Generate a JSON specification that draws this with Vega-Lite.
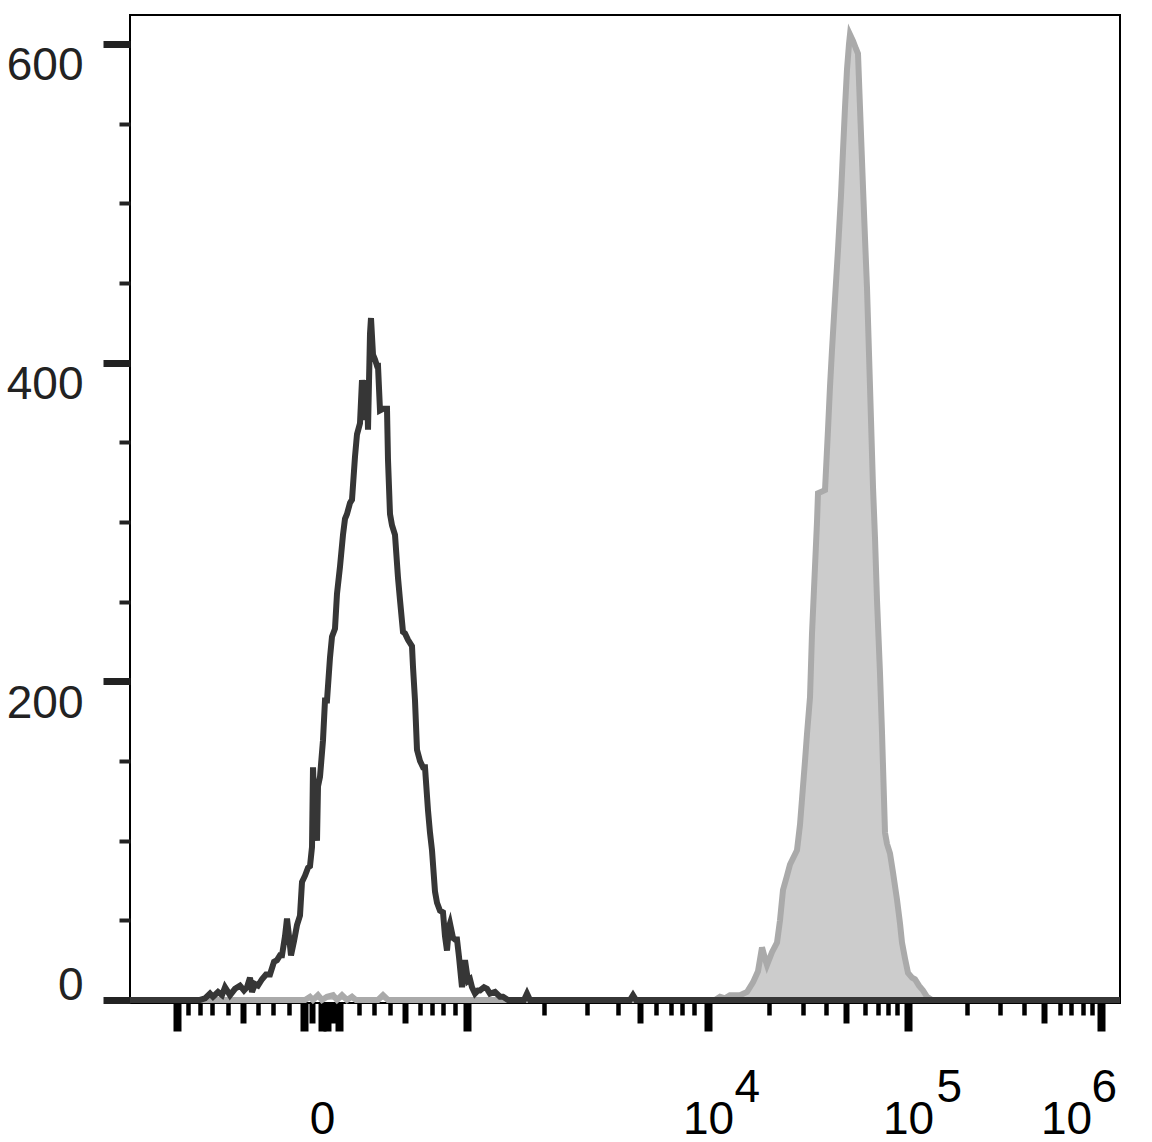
{
  "$schema": "https://vega.github.io/schema/vega-lite/v6.json",
  "width": 990,
  "height": 988,
  "autosize": {"type": "none"},
  "padding": {"left": 130, "top": 15, "right": 32, "bottom": 139},
  "background": "white",
  "config": {"view": {"stroke": "#000000", "strokeWidth": 2}, "font": "Liberation Sans"},
  "datasets": {
    "control": [
      {"pos":0,"count":0},{"pos":70,"count":0},{"pos":75,"count":1},{"pos":80,"count":4},{"pos":83,"count":2},{"pos":88,"count":5},{"pos":92,"count":3},{"pos":95,"count":8},{"pos":100,"count":3},{"pos":105,"count":7},{"pos":110,"count":9},{"pos":114,"count":6},{"pos":117,"count":8},{"pos":120,"count":14},{"pos":122,"count":5},{"pos":125,"count":10},{"pos":128,"count":9},{"pos":132,"count":13},{"pos":136,"count":16},{"pos":140,"count":16},{"pos":144,"count":24},{"pos":147,"count":25},{"pos":150,"count":28},{"pos":152,"count":28},{"pos":155,"count":40},{"pos":157,"count":51},{"pos":159,"count":40},{"pos":161,"count":28},{"pos":164,"count":37},{"pos":167,"count":47},{"pos":170,"count":53},{"pos":172,"count":74},{"pos":175,"count":78},{"pos":178,"count":83},{"pos":180,"count":84},{"pos":182,"count":96},{"pos":183,"count":146},{"pos":185,"count":110},{"pos":187,"count":100},{"pos":188,"count":134},{"pos":190,"count":140},{"pos":193,"count":163},{"pos":195,"count":188},{"pos":197,"count":188},{"pos":200,"count":215},{"pos":202,"count":228},{"pos":205,"count":233},{"pos":207,"count":255},{"pos":210,"count":272},{"pos":213,"count":292},{"pos":215,"count":302},{"pos":217,"count":305},{"pos":220,"count":312},{"pos":222,"count":314},{"pos":225,"count":341},{"pos":227,"count":355},{"pos":230,"count":362},{"pos":232,"count":389},{"pos":234,"count":378},{"pos":236,"count":364},{"pos":237,"count":389},{"pos":238,"count":358},{"pos":240,"count":418},{"pos":241,"count":428},{"pos":243,"count":405},{"pos":245,"count":402},{"pos":247,"count":398},{"pos":248,"count":398},{"pos":250,"count":370},{"pos":253,"count":371},{"pos":256,"count":371},{"pos":257,"count":371},{"pos":258,"count":339},{"pos":260,"count":305},{"pos":262,"count":298},{"pos":265,"count":292},{"pos":268,"count":265},{"pos":270,"count":251},{"pos":273,"count":231},{"pos":275,"count":230},{"pos":278,"count":226},{"pos":282,"count":222},{"pos":283,"count":209},{"pos":285,"count":188},{"pos":287,"count":157},{"pos":290,"count":150},{"pos":293,"count":146},{"pos":295,"count":146},{"pos":298,"count":119},{"pos":300,"count":105},{"pos":302,"count":94},{"pos":305,"count":68},{"pos":307,"count":61},{"pos":310,"count":56},{"pos":313,"count":55},{"pos":315,"count":40},{"pos":317,"count":31},{"pos":319,"count":46},{"pos":320,"count":48},{"pos":323,"count":39},{"pos":325,"count":38},{"pos":327,"count":38},{"pos":329,"count":27},{"pos":332,"count":8},{"pos":334,"count":22},{"pos":335,"count":25},{"pos":338,"count":12},{"pos":340,"count":13},{"pos":342,"count":8},{"pos":345,"count":4},{"pos":348,"count":6},{"pos":350,"count":6},{"pos":354,"count":8},{"pos":357,"count":7},{"pos":360,"count":4},{"pos":365,"count":5},{"pos":370,"count":2},{"pos":373,"count":2},{"pos":378,"count":0},{"pos":394,"count":0},{"pos":397,"count":4},{"pos":400,"count":0},{"pos":500,"count":0},{"pos":503,"count":3},{"pos":506,"count":0},{"pos":990,"count":0}
    ],
    "stained": [
      {"pos":0,"count":0},{"pos":170,"count":0},{"pos":175,"count":0},{"pos":180,"count":2},{"pos":183,"count":0},{"pos":188,"count":3},{"pos":192,"count":0},{"pos":197,"count":2},{"pos":203,"count":3},{"pos":207,"count":0},{"pos":212,"count":3},{"pos":217,"count":0},{"pos":222,"count":2},{"pos":226,"count":0},{"pos":248,"count":0},{"pos":253,"count":3},{"pos":258,"count":0},{"pos":585,"count":0},{"pos":590,"count":2},{"pos":595,"count":1},{"pos":600,"count":3},{"pos":610,"count":3},{"pos":617,"count":5},{"pos":623,"count":11},{"pos":628,"count":18},{"pos":632,"count":33},{"pos":635,"count":26},{"pos":637,"count":22},{"pos":642,"count":30},{"pos":647,"count":36},{"pos":650,"count":50},{"pos":653,"count":69},{"pos":657,"count":78},{"pos":660,"count":85},{"pos":667,"count":94},{"pos":670,"count":110},{"pos":672,"count":126},{"pos":675,"count":150},{"pos":677,"count":167},{"pos":680,"count":190},{"pos":682,"count":230},{"pos":685,"count":272},{"pos":687,"count":300},{"pos":688,"count":318},{"pos":695,"count":320},{"pos":698,"count":358},{"pos":700,"count":385},{"pos":702,"count":408},{"pos":705,"count":440},{"pos":708,"count":471},{"pos":711,"count":505},{"pos":713,"count":533},{"pos":715,"count":560},{"pos":717,"count":584},{"pos":719,"count":600},{"pos":720,"count":606},{"pos":723,"count":602},{"pos":726,"count":597},{"pos":728,"count":594},{"pos":730,"count":560},{"pos":733,"count":510},{"pos":735,"count":478},{"pos":737,"count":447},{"pos":740,"count":385},{"pos":743,"count":322},{"pos":745,"count":290},{"pos":747,"count":251},{"pos":750,"count":205},{"pos":752,"count":168},{"pos":755,"count":105},{"pos":757,"count":98},{"pos":760,"count":92},{"pos":763,"count":80},{"pos":767,"count":63},{"pos":770,"count":48},{"pos":772,"count":36},{"pos":775,"count":26},{"pos":778,"count":17},{"pos":782,"count":14},{"pos":785,"count":13},{"pos":789,"count":9},{"pos":793,"count":6},{"pos":797,"count":2},{"pos":802,"count":0},{"pos":990,"count":0}
    ]
  },
  "resolve": {"axis": {"x": "independent"}},
  "layer": [
    {
      "data": {"name": "stained"},
      "mark": {"type": "area", "color": "#cccccc", "interpolate": "linear"},
      "encoding": {
        "x": {
          "field": "pos",
          "type": "quantitative",
          "scale": {"domain": [0, 990], "nice": false, "zero": false},
          "axis": {
            "orient": "bottom",
            "title": null,
            "domain": false,
            "grid": false,
            "ticks": false,
            "tickSize": 0,
            "values": [578, 778, 971],
            "labelExpr": "datum.value == 578 ? '4' : datum.value == 778 ? '5' : '6'",
            "labelFont": "Liberation Sans",
            "labelFontSize": 46,
            "labelColor": "#000000",
            "labelAlign": "left",
            "labelBaseline": "top",
            "labelPadding": 62,
            "labelFlush": false,
            "labelOverlap": false,
            "labelBound": false,
            "labelOffset": {"condition": [{"test": "datum.value == 578", "value": 26}, {"test": "datum.value == 778", "value": 28}], "value": -10}
          }
        },
        "y": {
          "field": "count",
          "type": "quantitative",
          "scale": {"domain": [-1.9, 618.2], "nice": false, "zero": false},
          "axis": {
            "title": null,
            "domain": false,
            "grid": false,
            "values": [0,50,100,150,200,250,300,350,400,450,500,550,600],
            "tickColor": "#222222",
            "tickSize": {"condition": {"test": "datum.value % 200 == 0", "value": 27}, "value": 11},
            "tickWidth": {"condition": {"test": "datum.value % 200 == 0", "value": 7}, "value": 4},
            "labelExpr": "datum.value % 200 == 0 ? datum.label : ''",
            "labelFont": "Liberation Sans",
            "labelFontSize": 46,
            "labelColor": "#222222",
            "labelPadding": 20,
            "labelBaseline": {"condition": {"test": "datum.value == 0", "value": "alphabetic"}, "value": "top"},
            "labelOverlap": false,
            "labelBound": false,
            "labelFlush": false
          }
        }
      }
    },
    {
      "encoding": {
        "x": {
          "field": "pos",
          "type": "quantitative",
          "scale": {"domain": [0, 990], "nice": false, "zero": false},
          "axis": {
            "orient": "bottom",
            "title": null,
            "domain": false,
            "grid": false,
            "values": [47,58,70,82,98,113,128,143,159,174,182,192,197,203,209,229,244,260,275,290,302,313,325,337,414,457,488,510,526,541,552,564,578,639,673,696,716,735,748,758,767,778,837,870,894,914,930,941,953,962,971],
            "tickColor": "#000000",
            "tickSize": {"condition": [{"test": "indexof([47,174,192,197,209,337,578,778,971], datum.value) >= 0", "value": 28}, {"test": "indexof([113,182,203,275,510,716,914], datum.value) >= 0", "value": 20}], "value": 12},
            "tickWidth": {"condition": [{"test": "indexof([47,174,192,197,209,337,578,778,971], datum.value) >= 0", "value": 8}, {"test": "indexof([113,182,203,275,510,716,914], datum.value) >= 0", "value": 6}], "value": 4.5},
            "labelExpr": "datum.value == 192 ? '0' : indexof([578, 778, 971], datum.value) >= 0 ? '10' : ''",
            "labelFont": "Liberation Sans",
            "labelFontSize": 46,
            "labelColor": "#000000",
            "labelAlign": "center",
            "labelBaseline": "top",
            "labelPadding": 66,
            "labelFlush": false,
            "labelOverlap": false,
            "labelBound": false,
            "labelOffset": {"condition": {"test": "datum.value == 971", "value": -35}, "value": 0}
          }
        },
        "y": {
          "field": "count",
          "type": "quantitative",
          "scale": {"domain": [-1.9, 618.2], "nice": false, "zero": false},
          "axis": {
            "title": null,
            "domain": false,
            "grid": false,
            "values": [0,50,100,150,200,250,300,350,400,450,500,550,600],
            "tickColor": "#222222",
            "tickSize": {"condition": {"test": "datum.value % 200 == 0", "value": 27}, "value": 11},
            "tickWidth": {"condition": {"test": "datum.value % 200 == 0", "value": 7}, "value": 4},
            "labelExpr": "datum.value % 200 == 0 ? datum.label : ''",
            "labelFont": "Liberation Sans",
            "labelFontSize": 46,
            "labelColor": "#222222",
            "labelPadding": 20,
            "labelBaseline": {"condition": {"test": "datum.value == 0", "value": "alphabetic"}, "value": "top"},
            "labelOverlap": false,
            "labelBound": false,
            "labelFlush": false
          }
        }
      },
      "layer": [
        {"data": {"name": "stained"}, "mark": {"type": "line", "color": "#aaaaaa", "strokeWidth": 6, "strokeJoin": "miter", "interpolate": "linear"}},
        {"data": {"name": "control"}, "mark": {"type": "line", "color": "#363636", "strokeWidth": 6, "strokeJoin": "miter", "interpolate": "linear"}}
      ]
    }
  ]
}
